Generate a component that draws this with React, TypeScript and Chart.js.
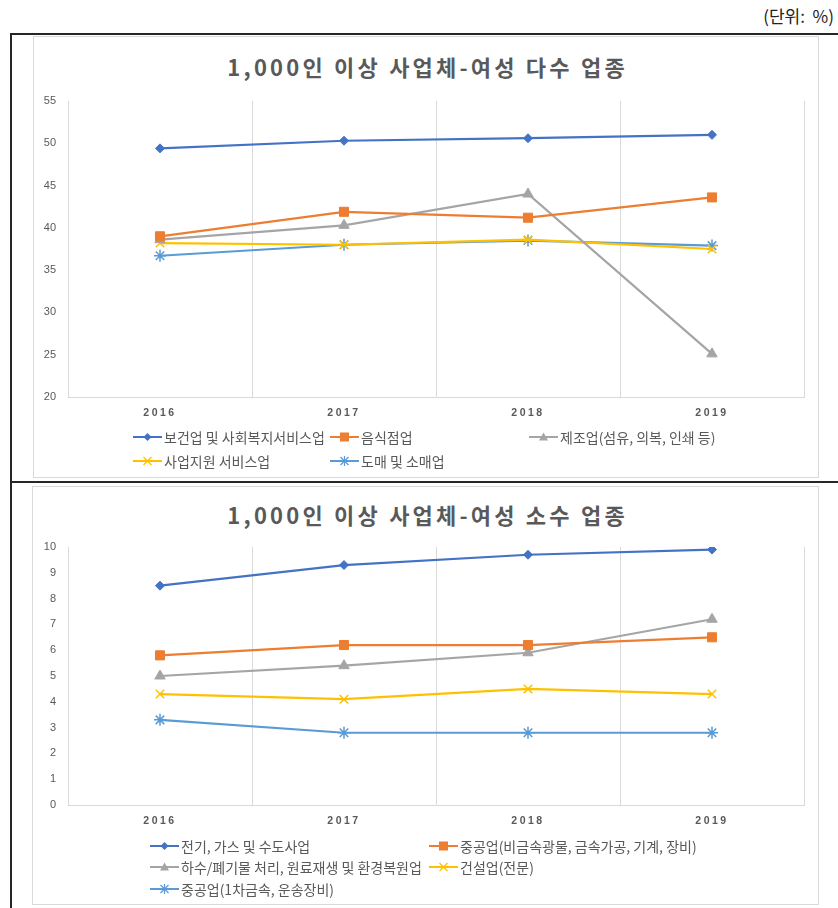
import React, { useEffect, useRef } from "react";
import { Chart, registerables } from "chart.js";

Chart.register(...registerables);

// ---------- data ----------
const years = ["2016", "2017", "2018", "2019"];
const unitLabel = "(단위:  %)";

const title1 = "1,000인 이상 사업체-여성 다수 업종";
const names1 = ["보건업 및 사회복지서비스업", "음식점업", "제조업(섬유, 의복, 인쇄 등)", "사업지원 서비스업", "도매 및 소매업"];
const health = [49.4, 50.3, 50.6, 51.0];
const restaurant = [39.0, 41.9, 41.2, 43.6];
const textileMfg = [38.6, 40.3, 44.0, 25.1];
const bizSupport = [38.2, 38.0, 38.6, 37.5];
const wholesale = [36.7, 38.0, 38.5, 37.9];
const yRange1 = [20, 55, 5];

const title2 = "1,000인 이상 사업체-여성 소수 업종";
const names2 = ["전기, 가스 및 수도사업", "중공업(비금속광물, 금속가공, 기계, 장비)", "하수/폐기물 처리, 원료재생 및 환경복원업", "건설업(전문)", "중공업(1차금속, 운송장비)"];
const utilities = [8.5, 9.3, 9.7, 9.9];
const heavyA = [5.8, 6.2, 6.2, 6.5];
const sewage = [5.0, 5.4, 5.9, 7.2];
const construction = [4.3, 4.1, 4.5, 4.3];
const heavyB = [3.3, 2.8, 2.8, 2.8];
const yRange2 = [0, 10, 1];

// ---------- styles ----------
const COLORS = ["#4472C4", "#ED7D31", "#A5A5A5", "#FFC000", "#5B9BD5"];
const SHAPES = ["rectRot", "rect", "triangle", "crossRot", "star"];
const RADII = [4.5, 6.4, 6, 6, 6];
const TEXT = "#595959";
const GRID = "#d9d9d9";

type Layout = {
  left: number; top: number; w: number; h: number;
  plotL: number; plotR: number; plotT: number; plotB: number;
};

const spacedX = {
  id: "spacedX",
  beforeDraw(chart: any) {
    const s: any = chart.scales.x;
    if (s && !s.__wrapped) {
      const orig = s.drawLabels.bind(s);
      s.drawLabels = (area: any) => {
        const c: any = chart.ctx;
        const prev = c.letterSpacing;
        c.letterSpacing = "2.5px";
        orig(area);
        c.letterSpacing = prev || "0px";
      };
      s.__wrapped = true;
    }
  },
};

function LineChart({ series, names, range, lay }: { series: number[][]; names: string[]; range: number[]; lay: Layout }) {
  const ref = useRef<HTMLCanvasElement | null>(null);
  useEffect(() => {
    if (!ref.current) return;
    const xAxisH = lay.h - lay.plotB;
    const chart = new Chart(ref.current, {
      type: "line",
      data: {
        labels: years,
        datasets: series.map((d, i) => ({
          label: names[i],
          data: d,
          borderColor: COLORS[i],
          backgroundColor: COLORS[i],
          borderWidth: 2.2,
          pointStyle: SHAPES[i] as any,
          pointRadius: RADII[i],
          pointBorderWidth: i >= 3 ? 1.5 : 1,
          pointBorderColor: COLORS[i],
          pointBackgroundColor: COLORS[i],
          tension: 0,
          fill: false,
        })),
      },
      options: {
        animation: false,
        responsive: false,
        devicePixelRatio: 1,
        layout: { padding: { left: 0, top: lay.plotT, right: lay.w - lay.plotR, bottom: 0 } },
        plugins: { legend: { display: false }, title: { display: false }, tooltip: { enabled: false } },
        scales: {
          x: {
            type: "category",
            offset: true,
            grid: { display: true, offset: true, color: GRID, lineWidth: 1, drawTicks: false },
            border: { display: true, color: GRID, width: 1 },
            ticks: { color: TEXT, font: { family: "'Liberation Sans', Arial, sans-serif", size: 10.5, weight: "bold" }, padding: 10, maxRotation: 0 },
            afterFit: (s: any) => { s.height = xAxisH; },
          },
          y: {
            min: range[0],
            max: range[1],
            grid: { display: false, drawTicks: false },
            border: { display: true, color: GRID, width: 1 },
            ticks: { stepSize: range[2], color: TEXT, font: { family: "'Liberation Sans', Arial, sans-serif", size: 11 }, padding: 12 },
            afterFit: (s: any) => { s.width = lay.plotL; },
          },
        },
      },
      plugins: [spacedX],
    });
    return () => chart.destroy();
  }, []);
  return (
    <canvas
      ref={ref}
      width={lay.w}
      height={lay.h}
      style={{ position: "absolute", left: lay.left, top: lay.top, width: lay.w, height: lay.h }}
    />
  );
}

function Marker({ i }: { i: number }) {
  const c = COLORS[i];
  const W = 29;
  const cx = 14.5, cy = 6;
  let shape: React.ReactNode = null;
  if (i === 0) shape = <polygon points={`${cx},${cy - 4} ${cx + 4},${cy} ${cx},${cy + 4} ${cx - 4},${cy}`} fill={c} />;
  if (i === 1) shape = <rect x={cx - 4.5} y={cy - 4.5} width={9} height={9} fill={c} />;
  if (i === 2) shape = <polygon points={`${cx},${cy - 4.5} ${cx + 4.5},${cy + 3.5} ${cx - 4.5},${cy + 3.5}`} fill={c} />;
  if (i === 3)
    shape = (
      <g stroke={c} strokeWidth={1.3}>
        <line x1={cx - 4} y1={cy - 4} x2={cx + 4} y2={cy + 4} />
        <line x1={cx - 4} y1={cy + 4} x2={cx + 4} y2={cy - 4} />
      </g>
    );
  if (i === 4)
    shape = (
      <g stroke={c} strokeWidth={1.2}>
        <line x1={cx - 4} y1={cy - 4} x2={cx + 4} y2={cy + 4} />
        <line x1={cx - 4} y1={cy + 4} x2={cx + 4} y2={cy - 4} />
        <line x1={cx} y1={cy - 5} x2={cx} y2={cy + 5} />
      </g>
    );
  return (
    <svg width={W} height={12} style={{ display: "block" }}>
      <line x1={0} y1={cy} x2={W} y2={cy} stroke={c} strokeWidth={2} />
      {shape}
    </svg>
  );
}

function Legend({ names, pos }: { names: string[]; pos: number[][] }) {
  return (
    <>
      {names.map((n, i) => (
        <div
          key={i}
          style={{
            position: "absolute",
            left: pos[i][0],
            top: pos[i][1] - 10,
            height: 20,
            display: "flex",
            alignItems: "center",
            whiteSpace: "nowrap",
            fontFamily: "'Noto Sans CJK KR', sans-serif",
            fontSize: 14,
            color: TEXT,
          }}
        >
          <Marker i={i} />
          <span style={{ marginLeft: 2 }}>{n}</span>
        </div>
      ))}
    </>
  );
}

function Title({ text, y }: { text: string; y: number }) {
  return (
    <div
      style={{
        position: "absolute",
        left: 33,
        width: 786,
        top: y - 15,
        height: 30,
        lineHeight: "30px",
        textAlign: "center",
        fontFamily: "'Noto Sans CJK KR', sans-serif",
        fontWeight: 700,
        fontSize: 22,
        letterSpacing: "3.2px",
        textIndent: "3.2px",
        color: TEXT,
        whiteSpace: "nowrap",
      }}
    >
      {text}
    </div>
  );
}

const box = (l: number, t: number, r: number, b: number): React.CSSProperties => ({
  position: "absolute",
  left: l,
  top: t,
  width: r - l - 2,
  height: b - t - 2,
  border: "1px solid #d9d9d9",
});

export default function App() {
  const lay1: Layout = { left: 33, top: 36, w: 786, h: 442, plotL: 35, plotR: 771, plotT: 65, plotB: 361 };
  const lay2: Layout = { left: 32, top: 486, w: 787, h: 419, plotL: 36, plotR: 772, plotT: 61, plotB: 319 };
  return (
    <div style={{ position: "absolute", left: 0, top: 0, width: 838, height: 908, overflow: "hidden", background: "#fff" }}>
      <div
        style={{
          position: "absolute",
          right: 4,
          top: 3,
          fontFamily: "'Noto Sans CJK KR', sans-serif",
          fontSize: 17,
          color: "#222",
          whiteSpace: "pre",
        }}
      >
        {unitLabel}
      </div>
      <div style={{ position: "absolute", left: 10, top: 33, width: 828, height: 2, background: "#262626" }} />
      <div style={{ position: "absolute", left: 10, top: 33, width: 2, height: 875, background: "#262626" }} />
      <div style={{ position: "absolute", left: 10, top: 481, width: 828, height: 2, background: "#262626" }} />

      <div style={box(33, 36, 819, 478)} />
      <div style={box(32, 486, 819, 905)} />

      <Title text={title1} y={66} />
      <Title text={title2} y={514} />

      <LineChart series={[health, restaurant, textileMfg, bizSupport, wholesale]} names={names1} range={yRange1} lay={lay1} />
      <LineChart series={[utilities, heavyA, sewage, construction, heavyB]} names={names2} range={yRange2} lay={lay2} />

      <Legend names={names1} pos={[[133, 437], [330, 437], [529, 437], [133, 461], [330, 461]]} />
      <Legend names={names2} pos={[[150, 846], [429, 846], [150, 867], [429, 867], [150, 889]]} />
    </div>
  );
}
